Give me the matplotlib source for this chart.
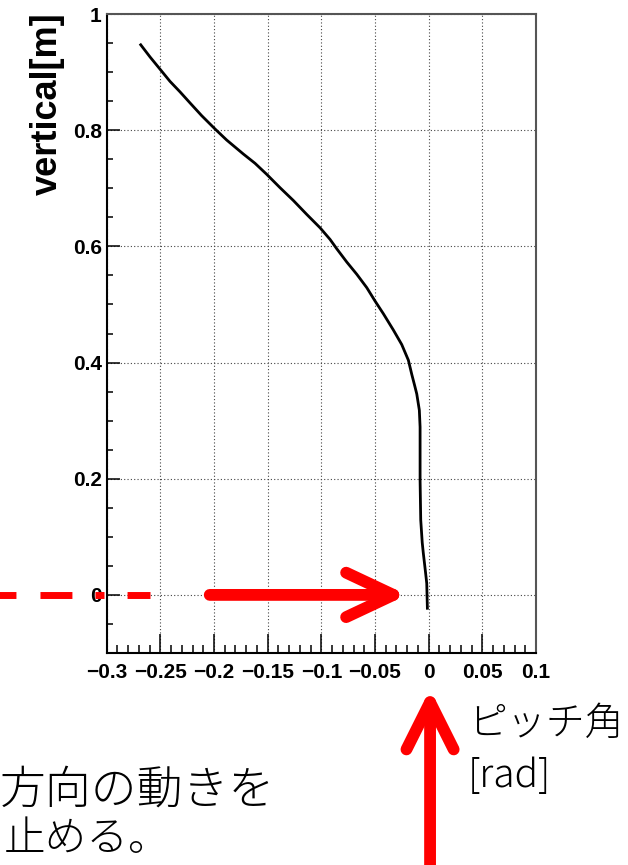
import matplotlib
matplotlib.use("Agg")
import matplotlib.pyplot as plt
from matplotlib.ticker import MultipleLocator

plt.rcParams["lines.scale_dashes"] = False

# curve (pitch angle [rad] vs vertical [m])
pitch = [-0.2683, -0.2596, -0.2503, -0.2410, -0.2317, -0.2224, -0.2115,
         -0.1990, -0.1882, -0.1727, -0.1618, -0.1509, -0.1385, -0.1261,
         -0.1136, -0.1012, -0.0919, -0.0857, -0.0763, -0.0670, -0.0577,
         -0.0500, -0.0422, -0.0329, -0.0251, -0.0189, -0.0158, -0.0130,
         -0.0111, -0.0087, -0.0080, -0.0080, -0.0074, -0.0060, -0.0050,
         -0.0030, -0.0018, -0.0012]
vertical = [0.947, 0.926, 0.905, 0.884, 0.866, 0.847, 0.825,
            0.802, 0.783, 0.759, 0.743, 0.724, 0.701, 0.679,
            0.655, 0.632, 0.612, 0.596, 0.573, 0.552, 0.529,
            0.506, 0.484, 0.456, 0.431, 0.404, 0.380, 0.360,
            0.346, 0.318, 0.289, 0.197, 0.129, 0.090, 0.072,
            0.040, 0.020, -0.023]

ylabel = "vertical[m]"
jp_label1 = "ピッチ角"
jp_label2 = "[rad]"
jp_note1 = "方向の動きを"
jp_note2 = "止める。"

tick_font = ["Liberation Sans", "DejaVu Sans"]
jp_font = ["Noto Sans CJK JP", "DejaVu Sans"]

fig = plt.figure(figsize=(6.28, 8.65), dpi=100)
ax = fig.add_axes([0.1699, 0.2451, 0.6836, 0.7387])

ax.plot(pitch, vertical, color="black", lw=2.0, zorder=3)

ax.set_xlim(-0.3, 0.1)
ax.set_ylim(-0.1, 1.0)
ax.xaxis.set_major_locator(MultipleLocator(0.05))
ax.xaxis.set_minor_locator(MultipleLocator(0.01))
ax.yaxis.set_major_locator(MultipleLocator(0.2))
ax.yaxis.set_minor_locator(MultipleLocator(0.05))
fmt = plt.FuncFormatter(lambda v, p: ("%g" % round(v, 3)).replace("-", "\u2212"))
ax.xaxis.set_major_formatter(fmt)
ax.yaxis.set_major_formatter(fmt)

ax.grid(True, which="major", color="#444444", linestyle=(0, (0.8, 1.6)), linewidth=0.8)
ax.tick_params(axis="both", which="both", direction="in", top=False, right=False, width=1.1, color="black")
ax.tick_params(axis="x", which="major", length=14, pad=7)
ax.tick_params(axis="x", which="minor", length=6)
ax.tick_params(axis="y", which="major", length=9, pad=3.5)
ax.tick_params(axis="y", which="minor", length=4.5)
for lab in ax.get_xticklabels() + ax.get_yticklabels():
    lab.set_fontfamily(tick_font)
    lab.set_fontweight("bold")
    lab.set_fontsize(15)

for side in ["left", "bottom"]:
    ax.spines[side].set_linewidth(1.5)
    ax.spines[side].set_color("black")
for side in ["top", "right"]:
    ax.spines[side].set_linewidth(1.5)
    ax.spines[side].set_color("#555555")

ax.set_ylabel(ylabel, loc="top", fontsize=26, fontweight="bold",
              fontfamily=["Liberation Sans", "DejaVu Sans"], va="center")
ax.yaxis.set_label_coords(-0.139, 1.003)

# red dashed guide at vertical = 0 (x in axes fraction)
ytrans = ax.get_yaxis_transform()
ax.plot([-0.272, 0.101], [0, 0], transform=ytrans, color="red", lw=5,
        dashes=(12.2, 17.3, 23, 16.6, 6.5, 16.6, 23, 30), solid_capstyle="butt",
        dash_capstyle="butt", clip_on=False, zorder=2)

# red arrows
ax.annotate("", xy=(-0.02, 0), xytext=(0.24, 0),
            xycoords="data", textcoords=ytrans,
            arrowprops=dict(arrowstyle="->, head_length=3.4, head_width=1.6",
                            color="red", lw=8.5, shrinkA=0, shrinkB=0,
                            capstyle="round", joinstyle="round"),
            annotation_clip=False, zorder=4)
ax.annotate("", xy=(0.0013, -0.162), xytext=(0.0013, -0.48),
            xycoords="data", textcoords="data",
            arrowprops=dict(arrowstyle="->, head_length=3.4, head_width=1.7",
                            color="red", lw=8.5, shrinkA=0, shrinkB=0,
                            capstyle="round", joinstyle="round"),
            annotation_clip=False, zorder=4)

fig.text(468 / 628, 1 - 724 / 865, jp_label1, fontsize=28, family=jp_font,
         fontweight="light", ha="left", va="center")
fig.text(468 / 628, 1 - 776 / 865, jp_label2, fontsize=28, family=jp_font,
         fontweight="light", ha="left", va="center")
fig.text(0.0, 1 - 791 / 865, jp_note1, fontsize=33, family=jp_font,
         fontweight="light", ha="left", va="center")
fig.text(0.006, 1 - 839 / 865, jp_note2, fontsize=30, family=jp_font,
         fontweight="light", ha="left", va="center")

fig.savefig("out.png", dpi=100)
